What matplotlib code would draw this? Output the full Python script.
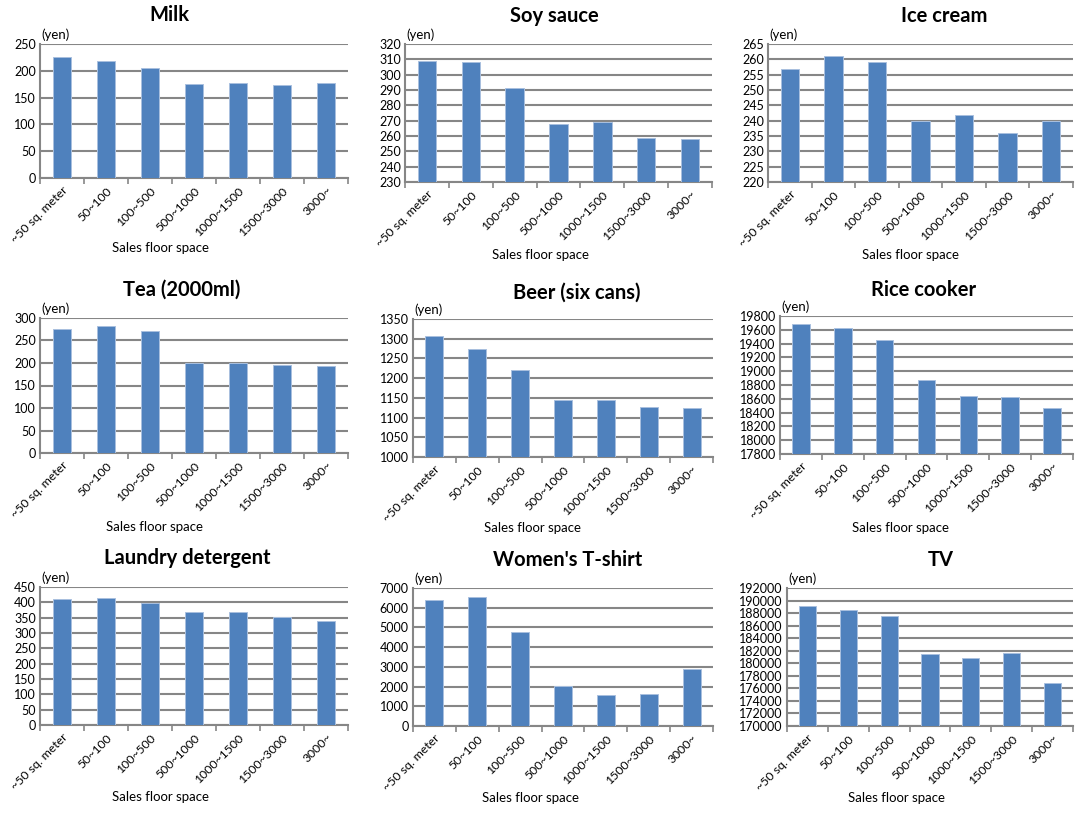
import numpy as np
import matplotlib.pyplot as plt
from matplotlib.ticker import FixedLocator

plt.rcParams['font.family'] = ['Lato', 'DejaVu Sans']

categories = ['~50 sq. meter', '50~100', '100~500', '500~1000',
              '1000~1500', '1500~3000', '3000~']

milk = [225, 218, 205, 175, 177, 174, 177]
soy_sauce = [309, 308, 291, 268, 269, 259, 258]
ice_cream = [257, 261, 259, 240, 242, 236, 240]
tea = [275, 283, 270, 200, 200, 196, 194]
beer = [1308, 1275, 1221, 1144, 1144, 1127, 1125]
rice_cooker = [19680, 19620, 19450, 18870, 18640, 18620, 18470]
detergent = [410, 413, 398, 370, 367, 351, 338]
tshirt = [6370, 6560, 4760, 2050, 1570, 1620, 2870]
tv = [189100, 188500, 187600, 181400, 180800, 181600, 176900]

titles = ['Milk', 'Soy sauce', 'Ice cream', 'Tea (2000ml)', 'Beer (six cans)',
          'Rice cooker', 'Laundry detergent', "Women's T-shirt", 'TV']
series = [milk, soy_sauce, ice_cream, tea, beer, rice_cooker, detergent, tshirt, tv]
# (min, max, step) of the value axis
y_scales = [(0, 250, 50), (230, 320, 10), (220, 265, 5),
            (0, 300, 50), (1000, 1350, 50), (17800, 19800, 200),
            (0, 450, 50), (0, 7000, 1000), (170000, 192000, 2000)]

W, H = 1078, 818
# plot area in pixels: left, top, right, bottom
boxes = [(40, 44, 348, 178), (405, 44, 712, 182), (768, 44, 1073, 182),
         (40, 318, 348, 453), (413, 319, 713, 457), (780, 316, 1073, 454),
         (40, 587, 348, 725), (413, 588, 713, 726), (787, 588, 1073, 726)]
title_px = [(169, 15), (554, 16), (944, 16),
            (182, 290), (577, 293), (924, 290),
            (187, 558), (568, 560), (941, 560)]
xlabel_px = [(160, 248), (541, 255), (910, 255),
             (154, 527), (532, 528), (900, 528),
             (160, 797), (530, 798), (897, 798)]

bar_color = '#4F81BD'
grid_color = '#868686'

fig = plt.figure(figsize=(W / 100, H / 100), dpi=100)

for i in range(9):
    l, t, r, b = boxes[i]
    ax = fig.add_axes([l / W, 1 - b / H, (r - l) / W, (b - t) / H])
    lo, hi, step = y_scales[i]
    x = np.arange(len(categories))
    ax.bar(x, series[i], width=0.42, color=bar_color,
           edgecolor='#A9C0DF', linewidth=0.7, zorder=3)
    ax.set_xlim(-0.5, len(categories) - 0.5)
    ax.set_ylim(lo, hi)
    ax.set_yticks(np.arange(lo, hi + step / 2, step))
    ax.yaxis.grid(True, color=grid_color, linewidth=1.5, zorder=0)
    ax.set_axisbelow(True)

    for side in ['top', 'right']:
        ax.spines[side].set_visible(False)
    for side in ['left', 'bottom']:
        ax.spines[side].set_color(grid_color)
        ax.spines[side].set_linewidth(1.5)

    ax.set_xticks(x)
    ax.set_xticklabels(categories, rotation=45, ha='right',
                       rotation_mode='anchor', fontsize=8.8)
    ax.tick_params(axis='x', which='major', length=0, pad=5)
    ax.xaxis.set_minor_locator(FixedLocator(np.arange(-0.5, len(categories), 1)))
    ax.tick_params(axis='x', which='minor', length=4, color=grid_color, width=1.2)
    ax.tick_params(axis='y', length=0, pad=3, labelsize=9)

    ax.text(0.005, 1.02, '(yen)', transform=ax.transAxes, ha='left',
            va='bottom', fontsize=9.5)

    tx, ty = title_px[i]
    fig.text(tx / W, 1 - ty / H, titles[i], ha='center', va='center',
             fontsize=14.5, fontweight='bold')
    lx, ly = xlabel_px[i]
    fig.text(lx / W, 1 - ly / H, 'Sales floor space', ha='center',
             va='center', fontsize=9.5)

fig.savefig('out.png', dpi=100)
